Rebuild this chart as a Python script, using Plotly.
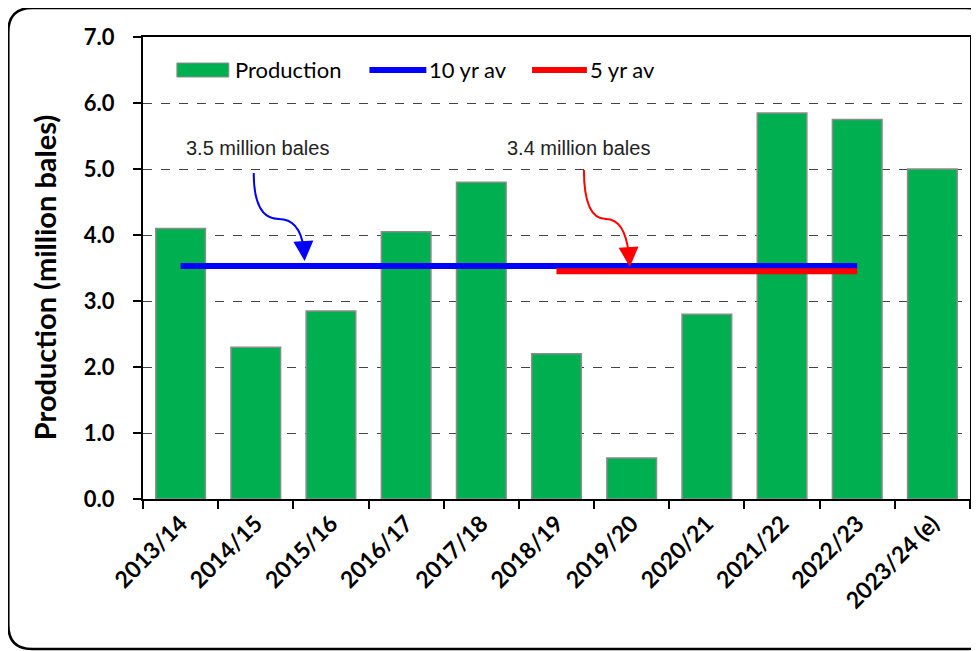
import plotly.graph_objects as go

# data
seasons = ['2013/14', '2014/15', '2015/16', '2016/17', '2017/18', '2018/19',
           '2019/20', '2020/21', '2021/22', '2022/23', '2023/24 (e)']
production = [4.1, 2.3, 2.85, 4.05, 4.8, 2.2, 0.62, 2.8, 5.85, 5.75, 5.0]
avg_10yr = 3.53   # 2013/14 - 2022/23
avg_5yr = 3.45    # 2018/19 - 2022/23
avg_10yr_label = '3.5 million bales'
avg_5yr_label = '3.4 million bales'
y_ticks = [0, 1, 2, 3, 4, 5, 6, 7]

GREEN = '#00B050'
BLUE = '#0000FF'
RED = '#FF0000'
CAL = 'Lato, Carlito, Calibri, sans-serif'

# the page puts the figure 8px in from the corner, so work in screen pixels
OFF = 8
W, H = 979 - OFF, 651 - OFF
PL, PT, PR, PB = 143, 37, 972, 499          # plot area on screen
L, T = PL - OFF, PT - OFF
R, B = W - (PR - OFF), H - (PB - OFF)
PW, PH = PR - PL, PB - PT


def pp(px, py):
    """screen pixel -> paper coordinates"""
    return (px - PL) / PW, (PB - py) / PH


def d(px, py):
    """screen pixel -> data coordinates (category index, value)"""
    return (px - PL) / (PW / len(seasons)) - 0.5, (PB - py) / (PH / 7)


fig = go.Figure()

fig.add_trace(go.Bar(
    x=seasons, y=production, name='Production',
    marker=dict(color=GREEN, line=dict(color='#8c8c8c', width=1.5)),
    width=0.66, showlegend=False,
))
fig.add_trace(go.Scatter(
    x=[seasons[0], seasons[9]], y=[avg_10yr, avg_10yr], mode='lines',
    name='10 yr av', line=dict(color=BLUE, width=6), showlegend=False,
))
fig.add_trace(go.Scatter(
    x=[seasons[5], seasons[9]], y=[avg_5yr, avg_5yr], mode='lines',
    name='5 yr av', line=dict(color=RED, width=6), showlegend=False,
))

shapes = []
annotations = []

# legend drawn by hand to match the original layout
x0, y0 = pp(177, 63)
x1, y1 = pp(229, 77)
shapes.append(dict(type='rect', xref='paper', yref='paper', x0=x0, y0=y0, x1=x1, y1=y1,
                   fillcolor=GREEN, line=dict(color='#8c8c8c', width=1)))
for (a, b, col) in [(370, 427, BLUE), (533, 588, RED)]:
    xa, yl = pp(a, 70)
    xb, _ = pp(b, 70)
    shapes.append(dict(type='line', xref='paper', yref='paper', x0=xa, x1=xb, y0=yl, y1=yl,
                       line=dict(color=col, width=6)))
for (px, txt) in [(233, 'Production'), (428, '10 yr av'), (589, '5 yr av')]:
    xa, yl = pp(px, 70)
    annotations.append(dict(xref='paper', yref='paper', x=xa, y=yl, text=txt, showarrow=False,
                            xanchor='left', yanchor='middle',
                            font=dict(family=CAL, size=22, color='black')))


def curve(pts):
    (a, b, c, e, f) = [d(*p) for p in pts]
    return (f'M {a[0]},{a[1]} Q {b[0]},{b[1]} {c[0]},{c[1]} '
            f'Q {e[0]},{e[1]} {f[0]},{f[1]}')


# curved call-out arrows
shapes.append(dict(type='path', xref='x', yref='y', line=dict(color=BLUE, width=2),
                   path=curve([(254, 173), (254, 219), (279, 219), (300, 219), (304, 248)])))
shapes.append(dict(type='path', xref='x', yref='y', line=dict(color=RED, width=2),
                   path=curve([(585, 170), (585, 219), (607, 219), (626, 219), (630, 254)])))
for (tip, col) in [((305, 261), BLUE), ((631, 267), RED)]:
    tx, ty = d(*tip)
    annotations.append(dict(x=tx, y=ty, xref='x', yref='y', text='', showarrow=True,
                            ax=-1, ay=-16, arrowhead=2, arrowsize=2, arrowwidth=2,
                            arrowcolor=col))

for (px, txt) in [(258, avg_10yr_label), (580, avg_5yr_label)]:
    tx, ty = d(px, 148)
    annotations.append(dict(x=tx, y=ty, xref='x', yref='y', text=txt, showarrow=False,
                            font=dict(family='Liberation Sans, Arial, sans-serif', size=20,
                                      color='#222222')))

# y axis title
tx, ty = pp(44, 277)
annotations.append(dict(xref='paper', yref='paper', x=tx, y=ty, text='<b>Production (million bales)</b>',
                        textangle=-90, showarrow=False, xanchor='center', yanchor='middle',
                        font=dict(family=CAL, size=29, color='black')))

# rounded outer frame
r = 24
fl, ft, fr, fb = 8, 8, 992, 649
pts = {
    'a': pp(fl + r, ft), 'b': pp(fr - r, ft), 'c': pp(fr, ft), 'd': pp(fr, ft + r),
    'e': pp(fr, fb - r), 'f': pp(fr, fb), 'g': pp(fr - r, fb), 'h': pp(fl + r, fb),
    'i': pp(fl, fb), 'j': pp(fl, fb - r), 'k': pp(fl, ft + r), 'l': pp(fl, ft),
}
p = {k: f'{v[0]},{v[1]}' for k, v in pts.items()}
frame = (f"M {p['a']} L {p['b']} Q {p['c']} {p['d']} L {p['e']} Q {p['f']} {p['g']} "
         f"L {p['h']} Q {p['i']} {p['j']} L {p['k']} Q {p['l']} {p['a']} Z")
shapes.append(dict(type='path', xref='paper', yref='paper', path=frame,
                   line=dict(color='black', width=2.5), layer='above'))

fig.update_layout(
    width=W, height=H,
    margin=dict(l=L, r=R, t=T, b=B),
    paper_bgcolor='white', plot_bgcolor='white',
    shapes=shapes, annotations=annotations,
    showlegend=False,
    xaxis=dict(
        type='category', tickson='boundaries', ticks='outside', ticklen=8,
        tickcolor='black', tickwidth=1.5, tickangle=-45,
        tickfont=dict(family=CAL, size=23, color='black', weight='bold'),
        showline=True, linecolor='black', linewidth=2, mirror=True,
        showgrid=False, range=[-0.5, 10.5],
    ),
    yaxis=dict(
        range=[0, 7], tickvals=y_ticks, tickformat='.1f', ticks='outside', ticklen=8,
        tickcolor='black', tickwidth=1.5, ticklabelstandoff=14,
        tickfont=dict(family=CAL, size=22, color='black', weight='bold'),
        showline=True, linecolor='black', linewidth=2, mirror=True,
        showgrid=True, gridcolor='#444444', griddash='dash', gridwidth=1,
        zeroline=False,
    ),
)

fig.write_html('out.html')
